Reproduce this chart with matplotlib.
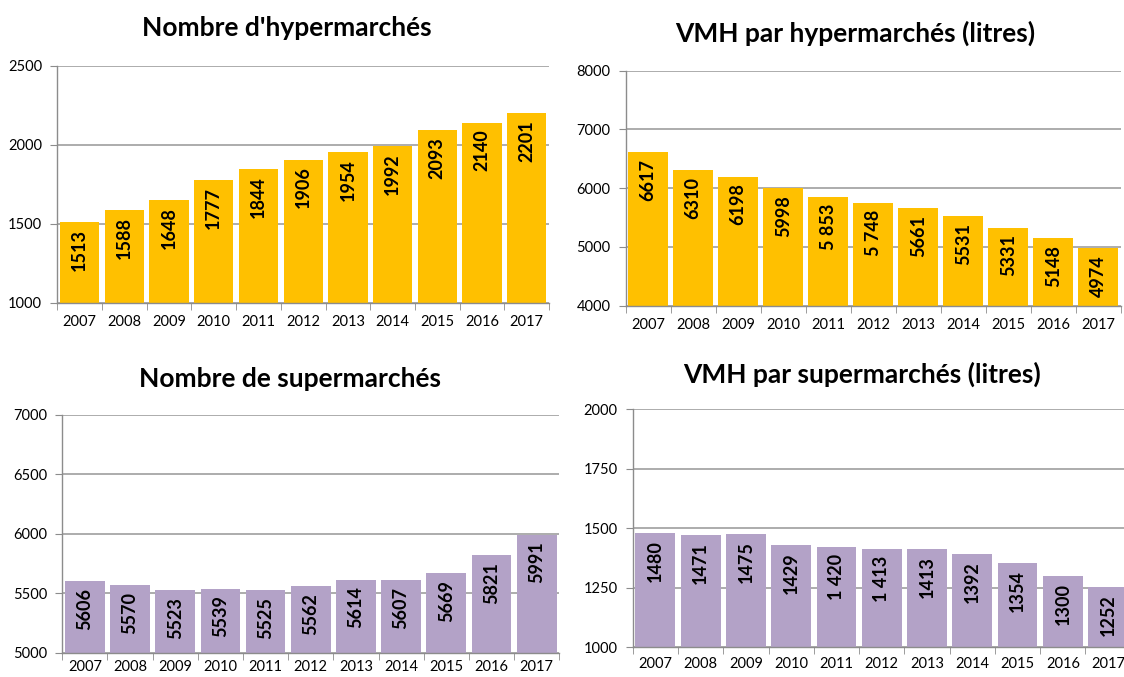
import matplotlib.pyplot as plt
import numpy as np

plt.rcParams['font.family'] = ['Lato', 'DejaVu Sans']

years = ['2007', '2008', '2009', '2010', '2011', '2012', '2013', '2014', '2015', '2016', '2017']

nb_hyper = [1513, 1588, 1648, 1777, 1844, 1906, 1954, 1992, 2093, 2140, 2201]
nb_hyper_labels = ['1513', '1588', '1648', '1777', '1844', '1906', '1954', '1992', '2093', '2140', '2201']

vmh_hyper = [6617, 6310, 6198, 5998, 5853, 5748, 5661, 5531, 5331, 5148, 4974]
vmh_hyper_labels = ['6617', '6310', '6198', '5998', '5 853', '5 748', '5661', '5531', '5331', '5148', '4974']

nb_super = [5606, 5570, 5523, 5539, 5525, 5562, 5614, 5607, 5669, 5821, 5991]
nb_super_labels = ['5606', '5570', '5523', '5539', '5525', '5562', '5614', '5607', '5669', '5821', '5991']

vmh_super = [1480, 1471, 1475, 1429, 1420, 1413, 1413, 1392, 1354, 1300, 1252]
vmh_super_labels = ['1480', '1471', '1475', '1429', '1 420', '1 413', '1413', '1392', '1354', '1300', '1252']

YELLOW = '#FFC000'
PURPLE = '#B3A2C7'
GRID = '#A6A6A6'
AXIS = '#8C8C8C'


def bar_panel(fig, rect, values, labels, color, ylim, step, title, title_xy, xpad):
    ax = fig.add_axes(rect)
    x = np.arange(len(years))
    ax.bar(x, values, width=0.88, color=color, zorder=2)
    ax.set_xlim(-0.5, len(years) - 0.5)
    ax.set_ylim(*ylim)
    ax.set_yticks(np.arange(ylim[0], ylim[1] + 1, step))
    ax.yaxis.grid(True, color=GRID, linewidth=1.3, zorder=0)
    for s in ['top', 'right']:
        ax.spines[s].set_visible(False)
    for s in ['left', 'bottom']:
        ax.spines[s].set_color(AXIS)
        ax.spines[s].set_linewidth(1.0)
    # year labels in the middle, tick marks between categories
    ax.set_xticks(x)
    ax.set_xticklabels(years)
    ax.set_xticks(np.arange(-0.5, len(years)), minor=True)
    ax.tick_params(axis='x', which='major', length=0, pad=xpad, labelsize=10.5)
    ax.tick_params(axis='x', which='minor', length=5, color=AXIS, direction='out')
    ax.tick_params(axis='y', length=5, color=AXIS, pad=6, labelsize=10.5)
    for xi, v, lab in zip(x, values, labels):
        ax.annotate(lab, (xi, v), xytext=(0, -5), textcoords='offset points',
                    rotation=90, ha='center', va='top', fontsize=13,
                    fontweight='bold', color='black', zorder=3)
    fig.text(title_xy[0] / 1124, 1 - title_xy[1] / 677, title, ha='center', va='center',
             fontsize=19, fontweight='bold')
    return ax


fig = plt.figure(figsize=(11.24, 6.77), dpi=100)

bar_panel(fig, [0.0510, 0.5529, 0.4375, 0.3501], nb_hyper, nb_hyper_labels, YELLOW,
          (1000, 2500), 500, "Nombre d'hypermarchés", (287, 28), 9)
bar_panel(fig, [0.5567, 0.5484, 0.4404, 0.3472], vmh_hyper, vmh_hyper_labels, YELLOW,
          (4000, 8000), 1000, "VMH par hypermarchés (litres)", (855, 33), 9)
bar_panel(fig, [0.0554, 0.0359, 0.4422, 0.3515], nb_super, nb_super_labels, PURPLE,
          (5000, 7000), 500, "Nombre de supermarchés", (290, 379), 5)
bar_panel(fig, [0.5629, 0.0439, 0.4431, 0.3515], vmh_super, vmh_super_labels, PURPLE,
          (1000, 2000), 250, "VMH par supermarchés (litres)", (862, 374), 7)

fig.savefig('out.png', dpi=100)
